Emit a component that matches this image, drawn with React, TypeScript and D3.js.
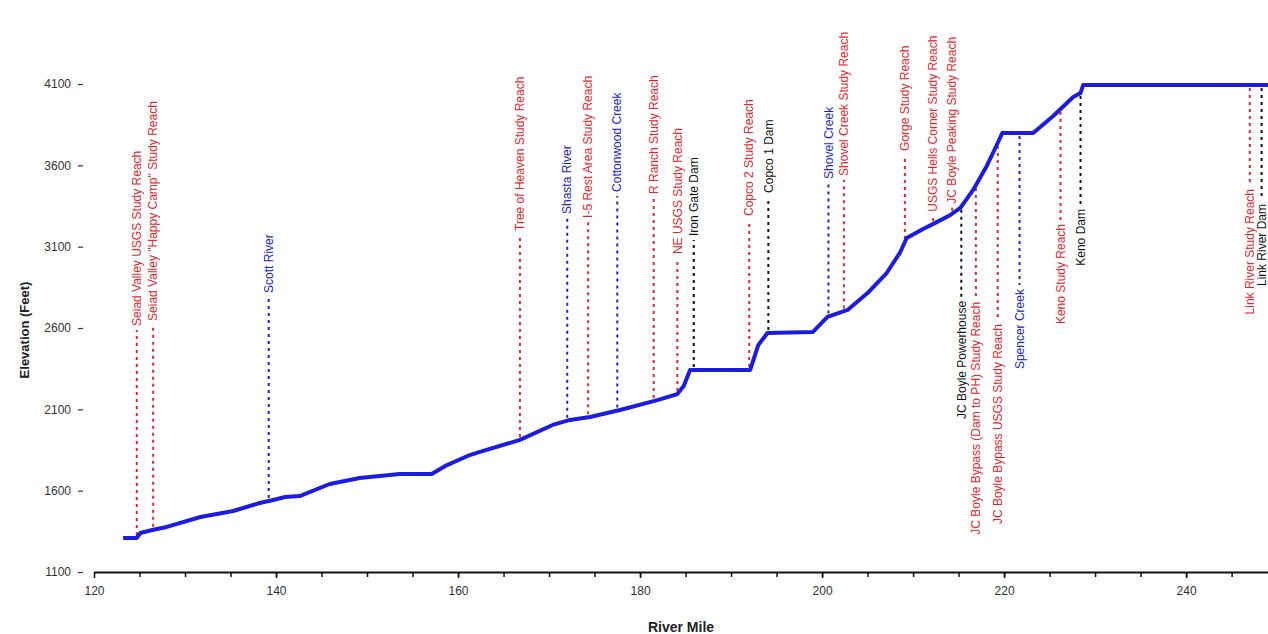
import React, { useEffect, useRef } from "react";
import * as d3 from "d3";

// Klamath River longitudinal profile
const profileMiles = [
  123.2, 124.7, 125.1, 126.4, 128.0, 131.7, 135.3, 138.2, 139.7, 141.0, 142.6,
  145.9, 149.2, 153.6, 157.1, 158.6, 161.3, 162.4, 166.8, 170.4, 172.3, 174.5,
  177.8, 181.9, 184.1, 184.8, 185.5, 192.1, 193.0, 194.0, 199.0, 200.6, 202.8,
  205.0, 207.1, 208.6, 209.3, 211.1, 212.6, 214.1, 215.2, 216.6, 218.1, 219.2,
  219.8, 223.2, 225.4, 227.6, 228.4, 228.7, 249.0,
];
const profileElev = [
  1309, 1309, 1340, 1358, 1377, 1438, 1475, 1524, 1543, 1561, 1567,
  1641, 1678, 1702, 1702, 1752, 1819, 1838, 1912, 2004, 2035, 2053,
  2096, 2157, 2194, 2244, 2342, 2342, 2496, 2569, 2576, 2668, 2711,
  2815, 2938, 3067, 3153, 3209, 3251, 3295, 3338, 3449, 3596, 3725,
  3799, 3799, 3903, 4020, 4045, 4094, 4094,
];

const markerMiles = [
  124.7, 126.5, 139.2, 166.8, 172.0, 174.3, 177.5, 181.5, 184.1, 185.9, 192.0,
  194.1, 200.7, 202.4, 209.1, 212.2, 214.3, 215.3, 216.9, 219.3, 221.7, 226.2,
  228.4, 247.0, 248.3,
];
const markerNames = [
  "Seiad Valley USGS Study Reach",
  "Seiad Valley \"Happy Camp\" Study Reach",
  "Scott River",
  "Tree of Heaven Study Reach",
  "Shasta River",
  "I-5 Rest Area Study Reach",
  "Cottonwood Creek",
  "R Ranch Study Reach",
  "NE USGS Study Reach",
  "Iron Gate Dam",
  "Copco 2 Study Reach",
  "Copco 1 Dam",
  "Shovel Creek",
  "Shovel Creek Study Reach",
  "Gorge Study Reach",
  "USGS Hells Corner Study Reach",
  "JC Boyle Peaking Study Reach",
  "JC Boyle Powerhouse",
  "JC Boyle Bypass (Dam to PH) Study Reach",
  "JC Boyle Bypass USGS Study Reach",
  "Spencer Creek",
  "Keno Study Reach",
  "Keno Dam",
  "Link River Study Reach",
  "Link River Dam",
];
// reach = study reach, trib = tributary, dam = structure
const markerKinds = [
  "reach", "reach", "trib", "reach", "trib", "reach", "trib", "reach", "reach", "dam", "reach",
  "dam", "trib", "reach", "reach", "reach", "reach", "dam", "reach", "reach", "trib", "reach",
  "dam", "reach", "dam",
];
const markerSide = [
  "up", "up", "up", "up", "up", "up", "up", "up", "up", "up", "up",
  "up", "up", "up", "up", "up", "up", "down", "down", "down", "down", "down",
  "down", "down", "down",
];
// elevation where the dotted leader stops and the label starts
const markerEndElev = [
  2588, 2619, 2791, 3172, 3276, 3252, 3412, 3399, 3030, 3141, 3264,
  3406, 3492, 3510, 3664, 3290, 3340, 2791, 2785, 2649, 2864, 3264,
  3356, 3479, 3387,
];

const xTicks = [120, 140, 160, 180, 200, 220, 240];
const yTicks = [1100, 1600, 2100, 2600, 3100, 3600, 4100];

const kindColor: Record<string, string> = {
  reach: "#e3262b",
  trib: "#2323c8",
  dam: "#111111",
};

export default function App() {
  const svgRef = useRef<SVGSVGElement>(null);

  useEffect(() => {
    const width = 1268;
    const height = 634;
    const font = "'Liberation Sans', Arial, sans-serif";

    const svg = d3.select(svgRef.current);
    svg.selectAll("*").remove();
    svg.attr("width", width).attr("height", height);

    const x = d3.scaleLinear().domain([120, 249]).range([94, 1268]);
    const y = d3.scaleLinear().domain([1100, 4100]).range([572, 84]);

    const profileAt = (m: number) => {
      const i = Math.max(1, Math.min(profileMiles.length - 1, d3.bisectLeft(profileMiles, m)));
      const t = (m - profileMiles[i - 1]) / (profileMiles[i] - profileMiles[i - 1]);
      return profileElev[i - 1] + t * (profileElev[i] - profileElev[i - 1]);
    };

    // marker leaders and labels
    const markers = svg.append("g");
    markerMiles.forEach((m, i) => {
      const color = kindColor[markerKinds[i]];
      const up = markerSide[i] === "up";
      const mx = x(m);
      const y0 = y(profileAt(m)) + (up ? -3 : 3);
      const y1 = y(markerEndElev[i]);
      markers
        .append("line")
        .attr("x1", mx)
        .attr("x2", mx)
        .attr("y1", y0)
        .attr("y2", y1)
        .attr("stroke", color)
        .attr("stroke-width", 2)
        .attr("stroke-dasharray", "3,4");
      markers
        .append("text")
        .attr("transform", `translate(${mx}, ${up ? y1 - 4 : y1 + 4}) rotate(-90)`)
        .attr("dy", "0.35em")
        .attr("text-anchor", up ? "start" : "end")
        .attr("fill", color)
        .attr("font-family", font)
        .attr("font-size", "12px")
        .text(markerNames[i]);
    });

    // profile
    const line = d3
      .line<number>()
      .x((d) => x(d))
      .y((d, i) => y(profileElev[i]));
    svg
      .append("path")
      .datum(profileMiles)
      .attr("d", line)
      .attr("fill", "none")
      .attr("stroke", "#1c1ce0")
      .attr("stroke-width", 4)
      .attr("stroke-linejoin", "round");

    // x axis
    const xMinor = svg
      .append("g")
      .attr("transform", "translate(0, 572)")
      .call(
        d3.axisBottom(x).tickValues(d3.range(125, 249, 5)).tickSize(5).tickSizeOuter(0).tickFormat(() => "")
      );
    xMinor.select(".domain").attr("stroke", "#111").attr("stroke-width", 2);
    xMinor.selectAll("line").attr("stroke", "#111").attr("stroke-width", 1.5);

    const xAxis = svg
      .append("g")
      .attr("transform", "translate(0, 572)")
      .call(d3.axisBottom(x).tickValues(xTicks).tickSize(6).tickSizeOuter(0).tickPadding(8));
    xAxis.select(".domain").remove();
    xAxis.selectAll("line").attr("stroke", "#111").attr("stroke-width", 1.5);
    xAxis.selectAll("text").attr("font-family", font).attr("font-size", "12px").attr("fill", "#333");

    // y axis
    const yAxis = svg
      .append("g")
      .attr("transform", "translate(83, 0)")
      .call(d3.axisLeft(y).tickValues(yTicks).tickSize(5).tickPadding(7).tickFormat(d3.format("d")));
    yAxis.select(".domain").remove();
    yAxis.selectAll("line").attr("stroke", "#333").attr("stroke-width", 1.2);
    yAxis.selectAll("text").attr("font-family", font).attr("font-size", "12px").attr("fill", "#333");

    svg
      .append("text")
      .attr("x", 681)
      .attr("y", 632)
      .attr("text-anchor", "middle")
      .attr("font-family", font)
      .attr("font-size", "14px")
      .attr("font-weight", "bold")
      .attr("fill", "#222")
      .text("River Mile");

    svg
      .append("text")
      .attr("transform", "translate(24, 330) rotate(-90)")
      .attr("dy", "0.35em")
      .attr("text-anchor", "middle")
      .attr("font-family", font)
      .attr("font-size", "13px")
      .attr("font-weight", "bold")
      .attr("fill", "#222")
      .text("Elevation (Feet)");
  }, []);

  return (
    <div>
      <svg ref={svgRef} style={{ position: "absolute", left: 0, top: 0, background: "#fff" }}></svg>
    </div>
  );
}
